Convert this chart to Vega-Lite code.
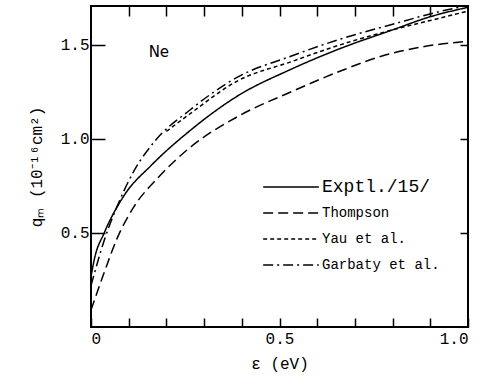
{
  "$schema": "https://vega.github.io/schema/vega-lite/v6.json",
  "width": 377,
  "height": 321,
  "autosize": {"type": "none"},
  "padding": {"left": 91, "top": 6, "right": 17, "bottom": 58},
  "background": "white",
  "config": {
    "view": {"stroke": "black", "strokeWidth": 2},
    "font": "Liberation Mono",
    "axis": {"domain": false, "grid": false, "ticks": true, "tickColor": "black", "labelColor": "black", "titleColor": "black", "labelFont": "Liberation Mono", "titleFont": "Liberation Mono", "tickWidth": 1.5}
  },
  "datasets": {
    "curves": [
      {"series": "Exptl./15/", "e": 0.0, "q": 0.27},
      {"series": "Exptl./15/", "e": 0.01, "q": 0.37},
      {"series": "Exptl./15/", "e": 0.035, "q": 0.5},
      {"series": "Exptl./15/", "e": 0.088, "q": 0.70},
      {"series": "Exptl./15/", "e": 0.16, "q": 0.86},
      {"series": "Exptl./15/", "e": 0.26, "q": 1.04},
      {"series": "Exptl./15/", "e": 0.39, "q": 1.23},
      {"series": "Exptl./15/", "e": 0.53, "q": 1.37},
      {"series": "Exptl./15/", "e": 0.66, "q": 1.48},
      {"series": "Exptl./15/", "e": 0.8, "q": 1.58},
      {"series": "Exptl./15/", "e": 0.9, "q": 1.65},
      {"series": "Exptl./15/", "e": 1.0, "q": 1.70},
      {"series": "Thompson", "e": 0.0, "q": 0.09},
      {"series": "Thompson", "e": 0.035, "q": 0.29},
      {"series": "Thompson", "e": 0.069, "q": 0.47},
      {"series": "Thompson", "e": 0.114, "q": 0.64},
      {"series": "Thompson", "e": 0.176, "q": 0.79},
      {"series": "Thompson", "e": 0.26, "q": 0.95},
      {"series": "Thompson", "e": 0.39, "q": 1.12},
      {"series": "Thompson", "e": 0.53, "q": 1.25},
      {"series": "Thompson", "e": 0.66, "q": 1.36},
      {"series": "Thompson", "e": 0.77, "q": 1.44},
      {"series": "Thompson", "e": 0.88, "q": 1.49},
      {"series": "Thompson", "e": 1.0, "q": 1.52},
      {"series": "Yau et al.", "e": 0.2, "q": 1.04},
      {"series": "Yau et al.", "e": 0.26, "q": 1.13},
      {"series": "Yau et al.", "e": 0.39, "q": 1.31},
      {"series": "Yau et al.", "e": 0.53, "q": 1.41},
      {"series": "Yau et al.", "e": 0.66, "q": 1.50},
      {"series": "Yau et al.", "e": 0.8, "q": 1.58},
      {"series": "Yau et al.", "e": 0.9, "q": 1.63},
      {"series": "Yau et al.", "e": 1.0, "q": 1.68},
      {"series": "Garbaty et al.", "e": 0.0, "q": 0.22},
      {"series": "Garbaty et al.", "e": 0.035, "q": 0.46},
      {"series": "Garbaty et al.", "e": 0.069, "q": 0.64},
      {"series": "Garbaty et al.", "e": 0.114, "q": 0.83},
      {"series": "Garbaty et al.", "e": 0.17, "q": 0.99},
      {"series": "Garbaty et al.", "e": 0.26, "q": 1.15},
      {"series": "Garbaty et al.", "e": 0.39, "q": 1.33},
      {"series": "Garbaty et al.", "e": 0.53, "q": 1.44},
      {"series": "Garbaty et al.", "e": 0.66, "q": 1.53},
      {"series": "Garbaty et al.", "e": 0.8, "q": 1.61},
      {"series": "Garbaty et al.", "e": 0.93, "q": 1.68},
      {"series": "Garbaty et al.", "e": 1.0, "q": 1.71}
    ],
    "notes": [{"e": 0.18, "q": 1.46, "label": "Ne"}]
  },
  "layer": [
    {
      "data": {"name": "curves"},
      "mark": {"type": "line", "color": "black", "strokeWidth": 1.5, "interpolate": "monotone", "clip": true},
      "encoding": {
        "x": {"field": "e", "type": "quantitative", "scale": {"domain": [0, 1], "nice": false, "zero": false},
          "axis": {"orient": "bottom", "values": [0, 0.1, 0.2, 0.3, 0.4, 0.5, 0.6, 0.7, 0.8, 0.9, 1.0], "tickSize": -9, "labelPadding": 12, "labelFontSize": 16,
            "labelExpr": "datum.value == 0 ? '0' : (datum.value == 0.5 ? '0.5' : (datum.value == 1 ? '1.0' : ''))",
            "title": "ε (eV)", "titleFontSize": 16, "titleFontWeight": "normal", "titlePadding": 9}},
        "y": {"field": "q", "type": "quantitative", "scale": {"domain": [0, 1.707], "nice": false},
          "axis": {"orient": "left", "values": [0.5, 1.0, 1.5], "format": ".1f", "tickSize": -14, "labelPadding": 16, "labelFontSize": 16,
            "title": "qₘ  (10⁻¹⁶cm²)", "titleFontSize": 16, "titleFontWeight": "normal", "titlePadding": 16}},
        "strokeDash": {"field": "series", "type": "nominal",
          "scale": {"domain": ["Exptl./15/", "Thompson", "Yau et al.", "Garbaty et al."], "range": [[1, 0], [10, 5], [4, 3], [10, 4, 2, 4]]},
          "legend": {"title": null, "orient": "none", "legendX": 171, "legendY": 172, "symbolType": "stroke", "symbolSize": 3100, "clipHeight": 18, "symbolStrokeWidth": 1.5, "symbolStrokeColor": "black", "labelFont": "Liberation Mono", "labelFontSize": 14, "labelColor": "black", "rowPadding": 8, "labelOffset": 2,
            "encode": {"labels": {"update": {"fontSize": {"signal": "datum.label == 'Exptl./15/' ? 18 : 14"}}}}}
        }
      }
    },
    {
      "data": {"name": "notes"},
      "mark": {"type": "text", "fontSize": 15, "font": "DejaVu Sans", "color": "black"},
      "encoding": {
        "x": {"field": "e", "type": "quantitative", "axis": {"orient": "top", "values": [0.1, 0.2, 0.3, 0.4, 0.5, 0.6, 0.7, 0.8, 0.9], "tickSize": -10, "labels": false, "title": null}},
        "y": {"field": "q", "type": "quantitative", "axis": {"orient": "right", "values": [0.5, 1.0, 1.5], "tickSize": -8, "labels": false, "title": null}},
        "text": {"field": "label"}
      }
    }
  ],
  "resolve": {"axis": {"x": "independent", "y": "independent"}}
}
